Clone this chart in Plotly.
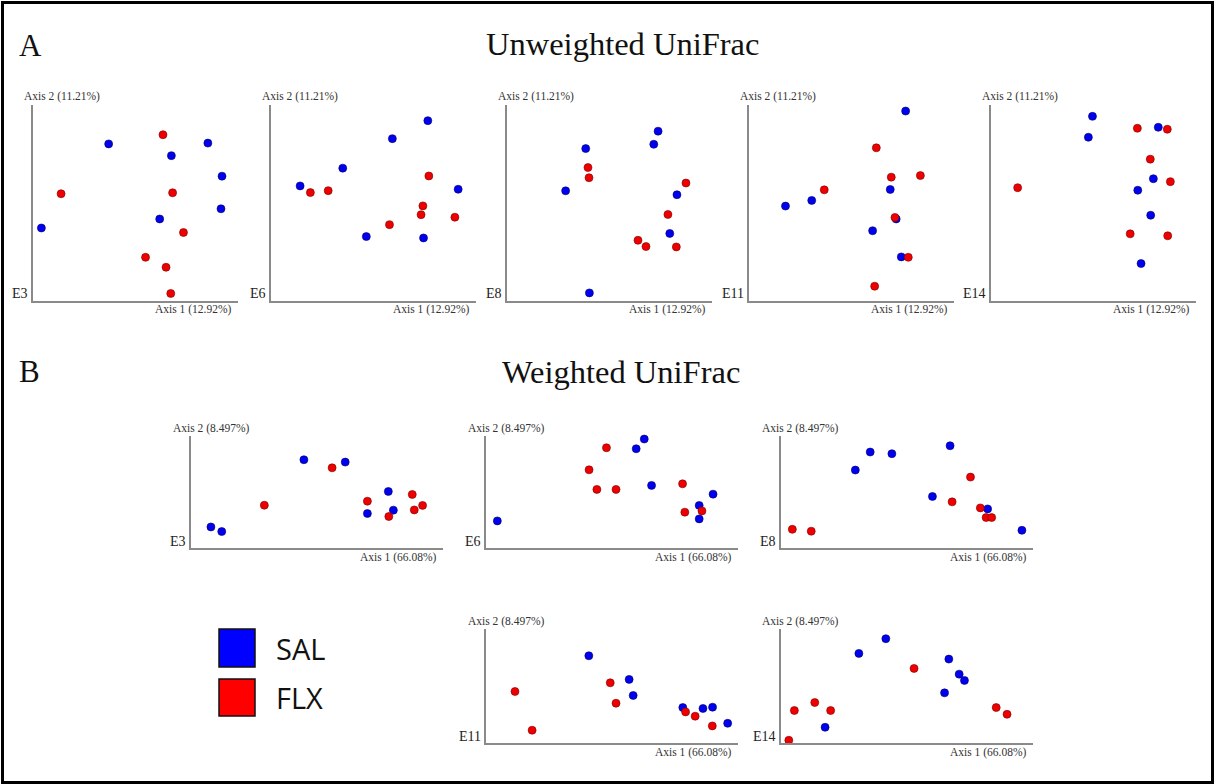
import plotly.graph_objects as go

W, H = 1215, 784

# ---------------- data (each panel scaled 0-100) ----------------
days_top = ["E3", "E6", "E8", "E11", "E14"]
days_bottom = ["E3", "E6", "E8", "E11", "E14"]
groups = ["SAL", "FLX"]
uw_axis1 = "Axis 1 (12.92%)"
uw_axis2 = "Axis 2 (11.21%)"
w_axis1 = "Axis 1 (66.08%)"
w_axis2 = "Axis 2 (8.497%)"
title_a = "Unweighted UniFrac"
title_b = "Weighted UniFrac"

# Unweighted UniFrac (x = Axis 1, y = Axis 2)
uw_e3_sal = [(36.9, 80.1), (85.3, 80.5), (67.5, 74.1), (92.2, 63.6), (91.7, 46.9), (61.8, 41.7), (4.1, 37.1)]
uw_e3_flx = [(63.4, 84.8), (13.7, 54.6), (68.1, 55.1), (73.4, 34.8), (54.9, 22.1), (64.9, 17.0), (67.2, 3.6)]
uw_e6_sal = [(76.5, 92.0), (59.2, 82.8), (35.0, 67.7), (14.2, 58.6), (91.3, 56.9), (46.5, 32.7), (74.4, 32.0)]
uw_e6_flx = [(19.2, 55.2), (27.9, 56.2), (77.0, 63.7), (74.1, 48.4), (73.2, 43.9), (57.8, 38.8), (89.7, 42.6)]
uw_e8_sal = [(73.7, 86.6), (71.6, 79.9), (38.4, 77.7), (28.6, 56.1), (82.9, 54.1), (79.4, 34.3), (40.2, 3.9)]
uw_e8_flx = [(39.5, 68.0), (40.0, 62.8), (87.3, 60.1), (78.5, 44.0), (63.9, 30.8), (67.8, 27.6), (82.6, 27.4)]
uw_e11_sal = [(76.4, 96.9), (68.9, 56.8), (30.6, 51.2), (17.8, 48.3), (71.8, 41.7), (60.3, 35.7), (74.3, 22.3)]
uw_e11_flx = [(62.1, 78.1), (69.4, 63.1), (83.6, 63.9), (36.7, 56.6), (71.2, 42.5), (77.7, 22.1), (61.3, 7.3)]
uw_e14_sal = [(49.5, 94.2), (47.5, 83.5), (81.6, 88.6), (79.2, 62.3), (71.6, 56.4), (77.9, 43.6), (73.2, 18.9)]
uw_e14_flx = [(71.4, 88.1), (86.0, 87.6), (77.7, 72.3), (87.5, 60.8), (13.0, 57.7), (67.9, 34.1), (86.2, 33.1)]

# Weighted UniFrac (x = Axis 1, y = Axis 2)
w_e3_sal = [(44.8, 78.8), (61.2, 76.7), (78.3, 50.5), (70.0, 30.8), (80.3, 33.8), (7.9, 18.8), (12.2, 14.7)]
w_e3_flx = [(56.0, 71.6), (29.1, 38.2), (70.0, 41.8), (87.8, 47.8), (88.6, 34.0), (91.9, 38.0), (78.5, 28.1)]
w_e6_sal = [(62.8, 97.3), (59.6, 88.6), (65.7, 55.9), (90.1, 48.1), (84.6, 38.0), (84.6, 26.0), (4.5, 24.2)]
w_e6_flx = [(47.8, 89.5), (40.9, 69.8), (44.0, 52.3), (51.6, 52.3), (78.0, 57.3), (85.7, 33.1), (78.9, 32.0)]
w_e8_sal = [(67.1, 91.3), (35.4, 85.7), (44.0, 84.2), (29.5, 69.6), (60.1, 46.0), (82.0, 34.9), (95.6, 15.8)]
w_e8_flx = [(75.2, 63.3), (67.9, 41.2), (79.1, 35.8), (81.4, 27.2), (83.6, 27.2), (4.5, 16.7), (12.0, 15.0)]
w_e11_sal = [(40.8, 76.5), (56.8, 55.8), (58.4, 41.7), (78.1, 31.1), (86.1, 30.3), (89.9, 31.4), (95.9, 17.3)]
w_e11_flx = [(11.5, 45.2), (18.3, 11.2), (49.3, 52.8), (51.6, 34.9), (79.2, 27.3), (83.0, 23.5), (89.8, 15.0)]
w_e14_sal = [(41.6, 91.5), (30.9, 78.6), (66.6, 73.6), (70.7, 60.4), (72.8, 54.9), (64.9, 44.0), (17.5, 13.8)]
w_e14_flx = [(52.8, 65.4), (13.4, 35.5), (5.3, 28.5), (19.7, 28.5), (85.4, 31.1), (89.7, 25.2), (3.1, 2.4)]

# ---------------- layout constants (pixels) ----------------
colors = {"SAL": "#0000ee", "FLX": "#ee0000"}
edge = {"SAL": "#00006a", "FLX": "#7a0000"}
legend_fill = {"SAL": "#0000ff", "FLX": "#ff0000"}
serif = "Liberation Serif"

top_boxes = [(33, 238), (271, 476), (507, 712), (749, 954), (991, 1196)]
top_tb = (105, 300.5)
bot_boxes = [(191, 443, 436, 548), (486, 738, 436, 548), (781, 1033, 436, 548),
             (486, 738, 629, 743), (781, 1033, 629, 743)]

panels = []
for i, (day, sal, flx) in enumerate(zip(days_top,
                                       [uw_e3_sal, uw_e6_sal, uw_e8_sal, uw_e11_sal, uw_e14_sal],
                                       [uw_e3_flx, uw_e6_flx, uw_e8_flx, uw_e11_flx, uw_e14_flx])):
    l, r = top_boxes[i]
    panels.append(dict(day=day, sal=sal, flx=flx, box=(l, r, top_tb[0], top_tb[1]),
                       a1=uw_axis1, a2=uw_axis2, a2off=29))
for i, (day, sal, flx) in enumerate(zip(days_bottom,
                                       [w_e3_sal, w_e6_sal, w_e8_sal, w_e11_sal, w_e14_sal],
                                       [w_e3_flx, w_e6_flx, w_e8_flx, w_e11_flx, w_e14_flx])):
    panels.append(dict(day=day, sal=sal, flx=flx, box=bot_boxes[i],
                       a1=w_axis1, a2=w_axis2, a2off=20))


def px(x):
    return x / W


def py(y):
    return 1 - y / H


fig = go.Figure()
annotations = []
axis_common = dict(range=[0, 100], showline=True, linecolor="#8a8a8a", linewidth=1.5,
                   showgrid=False, zeroline=False, showticklabels=False, ticks="",
                   fixedrange=True)
layout_axes = {}

for k, p in enumerate(panels):
    n = k + 1
    xa = "x" if n == 1 else f"x{n}"
    ya = "y" if n == 1 else f"y{n}"
    l, r, t, b = p["box"]
    layout_axes["xaxis" if n == 1 else f"xaxis{n}"] = dict(axis_common, domain=[px(l), px(r)], anchor=ya)
    layout_axes["yaxis" if n == 1 else f"yaxis{n}"] = dict(axis_common, domain=[py(b), py(t)], anchor=xa)
    for g, pts in (("SAL", p["sal"]), ("FLX", p["flx"])):
        fig.add_trace(go.Scatter(
            x=[q[0] for q in pts], y=[q[1] for q in pts], mode="markers",
            xaxis=xa, yaxis=ya, name=g, showlegend=False, cliponaxis=False,
            marker=dict(size=8, color=colors[g], line=dict(width=0.6, color=edge[g])),
        ))
    annotations.append(dict(text=p["a2"], x=px(l + p["a2off"]), y=py(t - 8), xref="paper", yref="paper",
                            xanchor="center", yanchor="middle", showarrow=False,
                            font=dict(family=serif, size=11.5, color="#333333")))
    annotations.append(dict(text=p["a1"], x=px(r - 4), y=py(b + 9), xref="paper", yref="paper",
                            xanchor="right", yanchor="middle", showarrow=False,
                            font=dict(family=serif, size=11.5, color="#333333")))
    annotations.append(dict(text=p["day"], x=px(l - 3), y=py(b - 7), xref="paper", yref="paper",
                            xanchor="right", yanchor="middle", showarrow=False,
                            font=dict(family=serif, size=14, color="#222222")))

# Titles
for txt, x, y, anc, sz in (("A", 17, 45, "left", 31), (title_a, 622, 44, "center", 32.5),
                           ("B", 17, 371, "left", 31), (title_b, 621, 372, "center", 32.5)):
    annotations.append(dict(text=txt, x=px(x), y=py(y), xref="paper", yref="paper",
                            xanchor=anc, yanchor="middle", showarrow=False,
                            font=dict(family=serif, size=sz, color="#111111")))

# Legend
shapes = []
for g, (y0, y1), ty in (("SAL", (629, 667), 648), ("FLX", (679, 716), 697)):
    shapes.append(dict(type="rect", xref="paper", yref="paper", x0=px(219), x1=px(255),
                       y0=py(y1), y1=py(y0), fillcolor=legend_fill[g],
                       line=dict(color="#111111", width=1.5)))
    annotations.append(dict(text=g, x=px(274), y=py(ty), xref="paper", yref="paper",
                            xanchor="left", yanchor="middle", showarrow=False,
                            font=dict(family="Open Sans", size=29, color="#111111")))

# Outer frame
shapes.append(dict(type="rect", xref="paper", yref="paper", x0=px(2.5), x1=px(1212.5),
                   y0=py(782.5), y1=py(2.5), line=dict(color="#000000", width=3)))

fig.update_layout(width=W, height=H, margin=dict(l=0, r=0, t=0, b=0),
                  paper_bgcolor="white", plot_bgcolor="white",
                  annotations=annotations, shapes=shapes, showlegend=False,
                  **layout_axes)

fig.write_html("out.html")
